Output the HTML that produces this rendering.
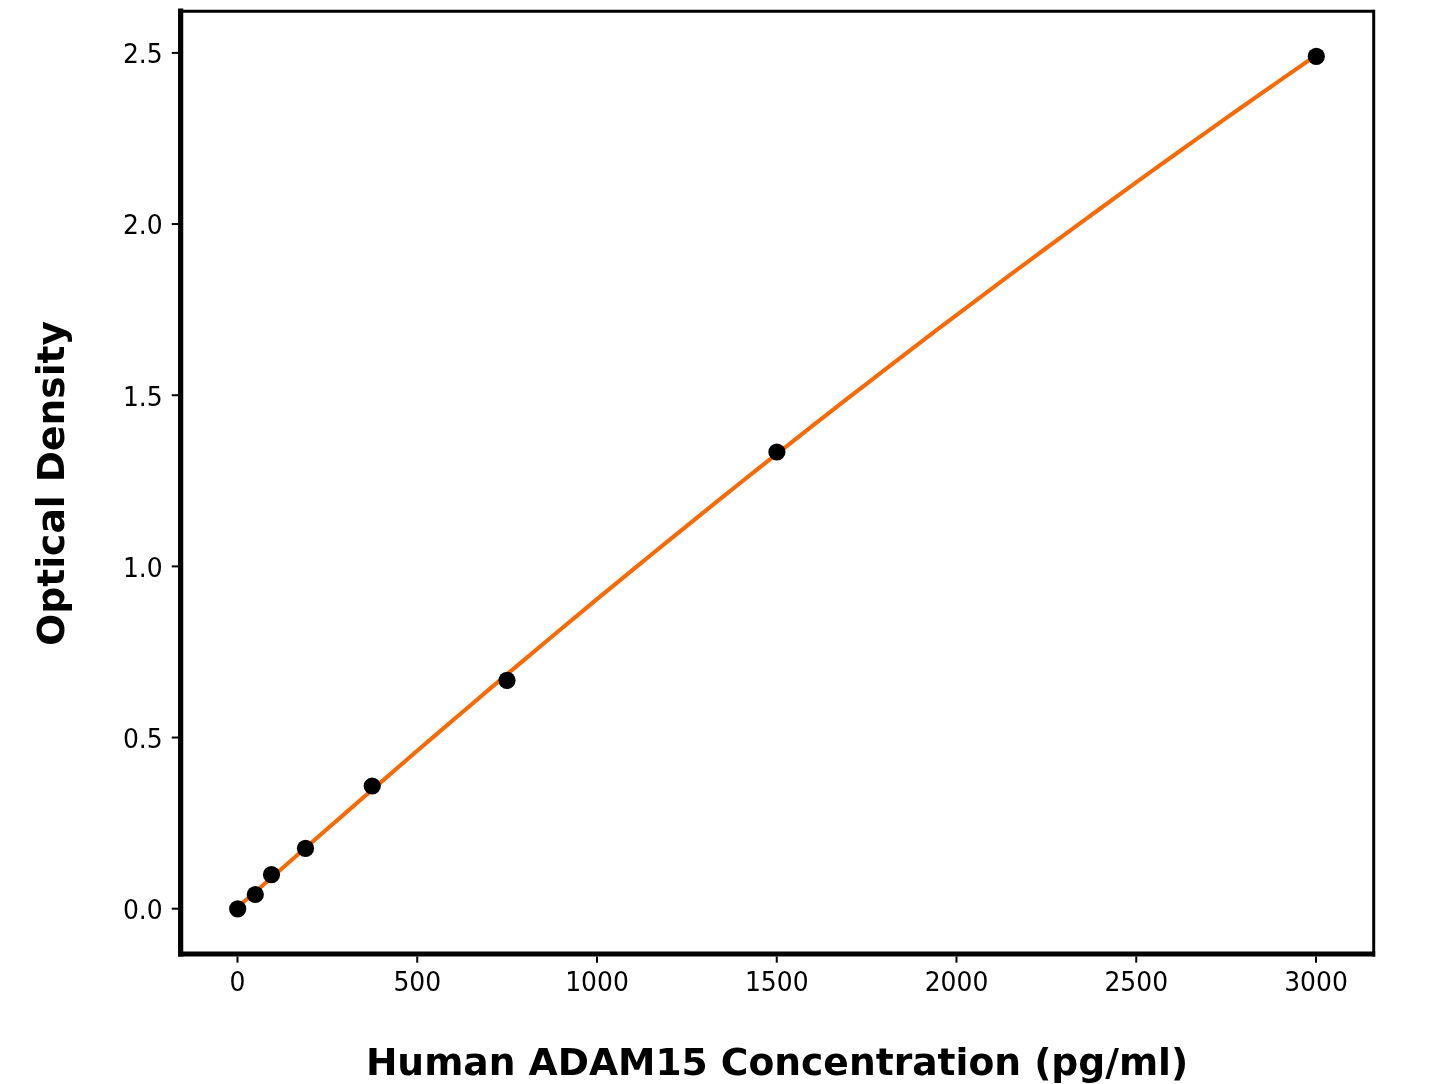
<!DOCTYPE html>
<html><head><meta charset="utf-8"><title>Human ADAM15 Standard Curve</title>
<style>
html,body{margin:0;padding:0;background:#fff;}
body{width:1445px;height:1084px;overflow:hidden;position:relative;}
svg{position:absolute;left:0;top:0;display:block;}
text{font-family:"DejaVu Sans","Liberation Sans",sans-serif;fill:#000;}
.tk{font-size:25px;}
.lb{font-size:37.62px;font-weight:bold;}
</style></head><body>
<svg width="1445" height="1084" viewBox="0 0 1445 1084">
<rect width="1445" height="1084" fill="#fff"/>
<polyline points="237.5,907.2 255.5,891.7 273.4,876.0 291.4,860.3 309.4,844.5 327.4,828.8 345.4,813.1 363.3,797.5 381.3,781.9 399.3,766.3 417.2,750.8 435.2,735.4 453.2,720.0 471.2,704.7 489.1,689.4 507.1,674.2 525.1,659.1 543.1,644.0 561.0,629.0 579.0,614.1 597.0,599.2 615.0,584.4 633.0,569.7 650.9,555.0 668.9,540.4 686.9,525.8 704.8,511.3 722.8,496.9 740.8,482.5 758.8,468.2 776.8,454.0 794.7,439.8 812.7,425.7 830.7,411.7 848.6,397.7 866.6,383.8 884.6,369.9 902.6,356.1 920.5,342.4 938.5,328.7 956.5,315.1 974.5,301.6 992.4,288.1 1010.4,274.7 1028.4,261.3 1046.4,248.0 1064.3,234.8 1082.3,221.6 1100.3,208.5 1118.3,195.4 1136.2,182.4 1154.2,169.4 1172.2,156.5 1190.2,143.7 1208.2,130.9 1226.1,118.2 1244.1,105.5 1262.1,92.9 1280.0,80.4 1298.0,67.9 1316.0,55.5" fill="none" stroke="#f76a06" stroke-width="4.1" stroke-linejoin="round" stroke-linecap="butt"/>
<circle cx="237.7" cy="908.9" r="8.6" fill="#000"/>
<circle cx="255.3" cy="894.5" r="8.6" fill="#000"/>
<circle cx="271.5" cy="874.6" r="8.6" fill="#000"/>
<circle cx="305.5" cy="848.3" r="8.6" fill="#000"/>
<circle cx="372.2" cy="786.0" r="8.6" fill="#000"/>
<circle cx="507.0" cy="680.3" r="8.6" fill="#000"/>
<circle cx="776.9" cy="452.0" r="8.6" fill="#000"/>
<circle cx="1316.3" cy="56.3" r="8.6" fill="#000"/>
<line x1="180.65" y1="11.3" x2="1373.7" y2="11.3" stroke="#000" stroke-width="3"/>
<line x1="1373.7" y1="9.8" x2="1373.7" y2="956.4" stroke="#000" stroke-width="3"/>
<line x1="180.65" y1="8.5" x2="180.65" y2="956.5" stroke="#000" stroke-width="5.2"/>
<line x1="178.05" y1="953.9" x2="1375.2" y2="953.9" stroke="#000" stroke-width="5"/>
<line x1="237.50" y1="956.5" x2="237.50" y2="962.6999999999999" stroke="#000" stroke-width="2"/>
<text class="tk" transform="translate(237.50 991.1) scale(1 1.06)" text-anchor="middle">0</text>
<line x1="417.25" y1="956.5" x2="417.25" y2="962.6999999999999" stroke="#000" stroke-width="2"/>
<text class="tk" transform="translate(417.25 991.1) scale(1 1.06)" text-anchor="middle">500</text>
<line x1="597.00" y1="956.5" x2="597.00" y2="962.6999999999999" stroke="#000" stroke-width="2"/>
<text class="tk" transform="translate(597.00 991.1) scale(1 1.06)" text-anchor="middle">1000</text>
<line x1="776.75" y1="956.5" x2="776.75" y2="962.6999999999999" stroke="#000" stroke-width="2"/>
<text class="tk" transform="translate(776.75 991.1) scale(1 1.06)" text-anchor="middle">1500</text>
<line x1="956.50" y1="956.5" x2="956.50" y2="962.6999999999999" stroke="#000" stroke-width="2"/>
<text class="tk" transform="translate(956.50 991.1) scale(1 1.06)" text-anchor="middle">2000</text>
<line x1="1136.25" y1="956.5" x2="1136.25" y2="962.6999999999999" stroke="#000" stroke-width="2"/>
<text class="tk" transform="translate(1136.25 991.1) scale(1 1.06)" text-anchor="middle">2500</text>
<line x1="1316.00" y1="956.5" x2="1316.00" y2="962.6999999999999" stroke="#000" stroke-width="2"/>
<text class="tk" transform="translate(1316.00 991.1) scale(1 1.06)" text-anchor="middle">3000</text>
<line x1="178.05" y1="908.70" x2="171.75" y2="908.70" stroke="#000" stroke-width="2"/>
<text class="tk" transform="translate(162.7 919.10) scale(1 1.06)" text-anchor="end">0.0</text>
<line x1="178.05" y1="737.54" x2="171.75" y2="737.54" stroke="#000" stroke-width="2"/>
<text class="tk" transform="translate(162.7 747.94) scale(1 1.06)" text-anchor="end">0.5</text>
<line x1="178.05" y1="566.38" x2="171.75" y2="566.38" stroke="#000" stroke-width="2"/>
<text class="tk" transform="translate(162.7 576.78) scale(1 1.06)" text-anchor="end">1.0</text>
<line x1="178.05" y1="395.22" x2="171.75" y2="395.22" stroke="#000" stroke-width="2"/>
<text class="tk" transform="translate(162.7 405.62) scale(1 1.06)" text-anchor="end">1.5</text>
<line x1="178.05" y1="224.06" x2="171.75" y2="224.06" stroke="#000" stroke-width="2"/>
<text class="tk" transform="translate(162.7 234.46) scale(1 1.06)" text-anchor="end">2.0</text>
<line x1="178.05" y1="52.90" x2="171.75" y2="52.90" stroke="#000" stroke-width="2"/>
<text class="tk" transform="translate(162.7 63.30) scale(1 1.06)" text-anchor="end">2.5</text>
<text class="lb" x="777.05" y="1075.3" text-anchor="middle">Human ADAM15 Concentration (pg/ml)</text>
<text class="lb" transform="translate(64.0 483.3) rotate(-90) scale(1,0.985)" text-anchor="middle">Optical Density</text>
</svg>
</body></html>
